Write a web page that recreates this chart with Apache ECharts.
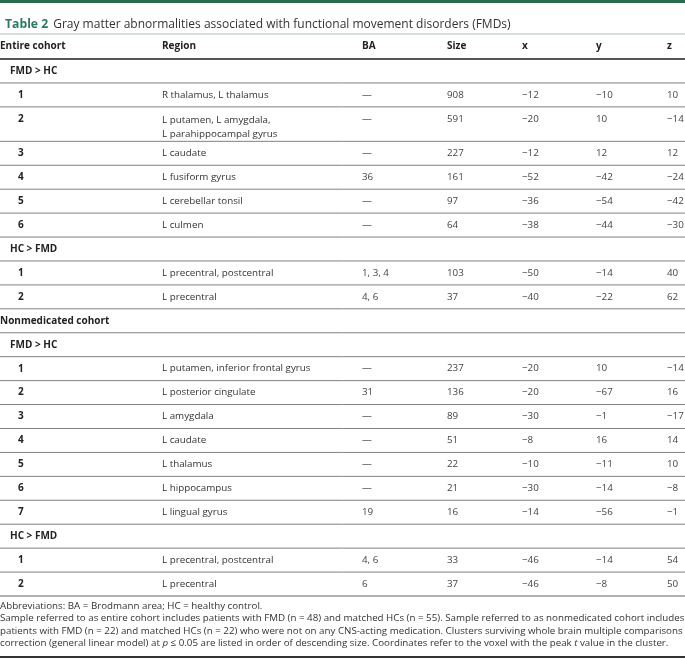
<!DOCTYPE html>
<html>
<head>
<meta charset="utf-8">
<script src="https://cdn.jsdelivr.net/npm/echarts@6/dist/echarts.min.js"></script>
<style>
  html, body { margin: 0; padding: 0; background: #fff; }
  #chart { width: 685px; height: 660px; }
</style>
</head>
<body>
<div id="chart"></div>
<script>
// table content
const columns = ['Entire cohort', 'Region', 'BA', 'Size', 'x', 'y', 'z'];
const cohorts = ['Entire cohort', 'Nonmedicated cohort'];
const contrasts = ['FMD > HC', 'HC > FMD'];

// [region, BA, size, x, y, z]
const entireFmdGtHc = [
    ['R thalamus, L thalamus', '—', 908, -12, -10, 10],
    ['L putamen, L amygdala,\nL parahippocampal gyrus', '—', 591, -20, 10, -14],
    ['L caudate', '—', 227, -12, 12, 12],
    ['L fusiform gyrus', '36', 161, -52, -42, -24],
    ['L cerebellar tonsil', '—', 97, -36, -54, -42],
    ['L culmen', '—', 64, -38, -44, -30],
];
const entireHcGtFmd = [
    ['L precentral, postcentral', '1, 3, 4', 103, -50, -14, 40],
    ['L precentral', '4, 6', 37, -40, -22, 62],
];
const nonmedFmdGtHc = [
    ['L putamen, inferior frontal gyrus', '—', 237, -20, 10, -14],
    ['L posterior cingulate', '31', 136, -20, -67, 16],
    ['L amygdala', '—', 89, -30, -1, -17],
    ['L caudate', '—', 51, -8, 16, 14],
    ['L thalamus', '—', 22, -10, -11, 10],
    ['L hippocampus', '—', 21, -30, -14, -8],
    ['L lingual gyrus', '19', 16, -14, -56, -1],
];
const nonmedHcGtFmd = [
    ['L precentral, postcentral', '4, 6', 33, -46, -14, 54],
    ['L precentral', '6', 37, -46, -8, 50],
];

const titleLabel = 'Table 2';
const titleText = 'Gray matter abnormalities associated with functional movement disorders (FMDs)';
const footnotes = [
    'Abbreviations: BA = Brodmann area; HC = healthy control.',
    'Sample referred to as entire cohort includes patients with FMD (n = 48) and matched HCs (n = 55). Sample referred to as nonmedicated cohort includes',
    'patients with FMD (n = 22) and matched HCs (n = 22) who were not on any CNS-acting medication. Clusters surviving whole brain multiple comparisons',
    'correction (general linear model) at {i|p} ≤ 0.05 are listed in order of descending size. Coordinates refer to the voxel with the peak {i|t} value in the cluster.',
];

// layout
const FONT = '"Open Sans", "Noto Sans", sans-serif';
const colX = [0, 162, 362, 447, 522, 596, 667];
const headerH = 25, rowH = 23.9, doubleH = 34.4;
const green = '#2b7a5c';

function fmt(v) {
    if (typeof v === 'string') return v;
    return v < 0 ? '\u2212' + Math.abs(v) : String(v);
}

// flatten into rows
const rows = [{ kind: 'header' }];
function addBlock(label, list) {
    rows.push({ kind: 'contrast', label });
    list.forEach((r, i) => rows.push({ kind: 'data', num: String(i + 1), cells: r }));
}
addBlock(contrasts[0], entireFmdGtHc);
addBlock(contrasts[1], entireHcGtFmd);
rows.push({ kind: 'cohort', label: cohorts[1] });
addBlock(contrasts[0], nonmedFmdGtHc);
addBlock(contrasts[1], nonmedHcGtFmd);

let acc = 0;
const rowData = rows.map((r, i) => {
    let h = rowH;
    if (r.kind === 'header') h = headerH;
    else if (r.kind === 'data' && r.cells[0].indexOf('\n') >= 0) h = doubleH;
    const item = [acc, acc + h, i];
    acc += h;
    return item;
});
const totalH = acc;

function txt(x, y, text, opts) {
    return {
        type: 'text',
        style: Object.assign({
            x, y, text,
            font: '9.8px ' + FONT,
            fill: '#333',
            verticalAlign: 'middle',
            align: 'left',
        }, opts || {}),
    };
}

function renderRow(params, api) {
    const r = rows[params.dataIndex];
    const y0 = api.coord([0, api.value(0)])[1];
    const y1 = api.coord([0, api.value(1)])[1];
    const xs = colX.map(c => api.coord([c, 0])[0]);
    const right = api.coord([685, 0])[0];
    const kids = [];
    let midY = (y0 + y1) / 2;
    const bold = 'bold 10px ' + FONT;

    if (r.kind === 'header') {
        columns.forEach((c, i) => kids.push(txt(xs[i], midY, c, { font: bold, fill: '#222' })));
        kids.push({ type: 'line', shape: { x1: xs[0], y1: y0, x2: right, y2: y0 }, style: { stroke: '#a9bdb5', lineWidth: 1 } });
        kids.push({ type: 'line', shape: { x1: xs[0], y1: y1, x2: right, y2: y1 }, style: { stroke: '#555', lineWidth: 2 } });
        return { type: 'group', children: kids };
    }
    if (r.kind === 'contrast') {
        kids.push(txt(xs[0] + 10, midY, r.label, { font: bold, fill: '#222' }));
    } else if (r.kind === 'cohort') {
        kids.push(txt(xs[0], midY, r.label, { font: bold, fill: '#222' }));
    } else {
        const lineY = r.cells[0].indexOf('\n') >= 0 ? y0 + rowH / 2 : midY;
        kids.push(txt(xs[0] + 18, lineY, r.num, { font: bold, fill: '#222' }));
        if (r.cells[0].indexOf('\n') >= 0) {
            kids.push(txt(xs[1], y0 + 6, r.cells[0], { verticalAlign: 'top', lineHeight: 14 }));
        } else {
            kids.push(txt(xs[1], lineY, r.cells[0]));
        }
        for (let i = 1; i < r.cells.length; i++) {
            kids.push(txt(xs[i + 1], lineY, fmt(r.cells[i]), { fill: '#444' }));
        }
    }
    const last = params.dataIndex === rows.length - 1;
    kids.push({
        type: 'line',
        shape: { x1: xs[0], y1: y1, x2: right, y2: y1 },
        style: { stroke: last ? '#999' : '#808080', lineWidth: last ? 1.5 : 1 },
    });
    return { type: 'group', children: kids };
}

const chart = echarts.init(document.getElementById('chart'), null, { renderer: 'canvas' });

chart.setOption({
    animation: false,
    title: {
        left: 0, top: 11,
        text: '{a|' + titleLabel + '} {b|' + titleText + '}',
        textStyle: {
            fontWeight: 'normal',
            rich: {
                a: { fontFamily: FONT, fontSize: 12.2, fontWeight: 'bold', color: green },
                b: { fontFamily: FONT, fontSize: 12, fontWeight: 'normal', color: '#333' },
            },
        },
    },
    grid: { left: 0, right: 0, top: 34, bottom: 64 },
    xAxis: { type: 'value', min: 0, max: 685, show: false },
    yAxis: { type: 'value', min: 0, max: totalH, inverse: true, show: false },
    series: [{
        type: 'custom',
        renderItem: renderRow,
        data: rowData,
        encode: { y: [0, 1] },
        clip: false,
        silent: true,
    }],
    graphic: [
        { type: 'rect', left: 0, top: 0, shape: { width: 685, height: 3 }, style: { fill: '#2a6b50' } },
        {
            type: 'group', left: 0, top: 601,
            children: footnotes.map((t, i) => ({
                type: 'text', x: 0, y: i * 12.5,
                style: {
                    text: t,
                    font: '9.75px ' + FONT,
                    fill: '#333',
                    rich: { i: { fontStyle: 'italic', fontFamily: FONT, fontSize: 9.75, fill: '#333' } },
                },
            })),
        },
        { type: 'rect', left: 0, top: 656, shape: { width: 685, height: 2 }, style: { fill: '#333' } },
    ],
});
</script>
</body>
</html>
